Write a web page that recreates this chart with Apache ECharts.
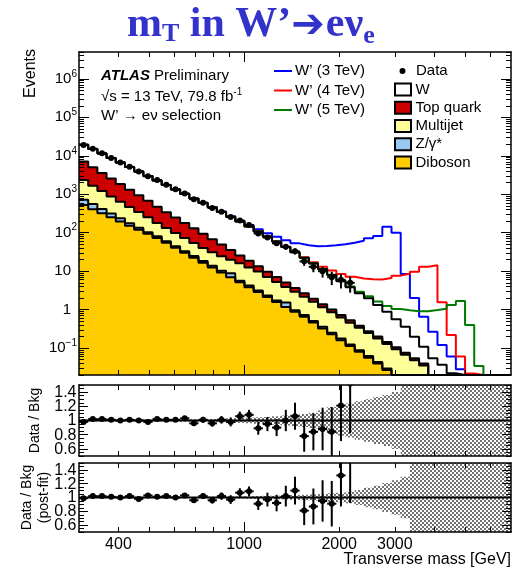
<!DOCTYPE html>
<html>
<head>
<meta charset="utf-8">
<script src="https://cdn.jsdelivr.net/npm/echarts@6.0.0/dist/echarts.min.js"></script>
<style>
html,body{margin:0;padding:0;background:#fff;}
#chart{width:513px;height:570px;}
</style>
</head>
<body>
<div id="chart"></div>
<script>
// ================= DATA =================
const nBins = 47;                       // log-spaced mT bins
const mTMinGeV = 300, mTMaxGeV = 7000;  // axis range
const xTickLabels = [400, 1000, 2000, 3000];
const yTickLabels = [0.1, 1, 10, 100, 1000, 10000, 100000, 1000000];
const ratioTickLabels = [0.6, 0.8, 1, 1.2, 1.4];

// background yields per bin (stack order bottom -> top: Diboson, Z, Multijet, Top, W)
const bkgDiboson = [525, 410, 321, 251, 196, 153, 120, 93.5, 73.1, 54.5, 40.6, 30.2, 22.5, 16.7, 12.5, 9.29, 6.92, 5.15, 3.84, 2.86, 2.13, 1.58, 1.18, 0.879, 0.655, 0.461, 0.325, 0.229, 0.161, 0.114, 0.0802, 0.0565, 0.0398, 0.0269, 0.0158, 0.010, 0.006, 0.004, 0.0025, 0.0015, 0.001, 0.0006, 0.0004, 0.0003, 0.0002, 0.0001, 0.0001];
const bkgZ = [200, 152, 93, 63, 43, 23, 14.4, 9.4, 7.3, 5.5, 4.1, 3.0, 2.25, 1.67, 1.25, 0.93, 1.9, 0.52, 0.38, 0.29, 0.21, 0.16, 0.35, 0.088, 0.066, 0.046, 0.033, 0.023, 0.016, 0.011, 0.008, 0.0057, 0.004, 0.0027, 0.0016, 0.001, 0.0006, 0.0004, 0.0003, 0.0002, 0.0001, 0.0001, 0.00005, 0.00005, 0.00003, 0.00002, 0.00001];
const bkgMultijet = [1619, 1098, 802, 557, 399, 292, 209, 148, 99.6, 73, 53.9, 39.7, 29.4, 21.6, 17.3, 14.4, 11.1, 10.5, 8.34, 6.6, 4.71, 3.47, 2.33, 1.95, 1.45, 1.09, 0.80, 0.607, 0.444, 0.335, 0.252, 0.184, 0.134, 0.099, 0.076, 0.0565, 0.042, 0.031, 0.014, 0.0124, 0.008, 0.005, 0.003, 0.002, 0.001, 0.0008, 0.0004];
const bkgTop = [4735, 3352, 2373, 1699, 1203, 850, 601, 425, 293, 210, 149, 106, 76, 53.8, 36.9, 24.5, 15.6, 9.5, 6.0, 3.75, 2.68, 1.82, 1.23, 0.76, 0.50, 0.33, 0.23, 0.15, 0.108, 0.068, 0.042, 0.030, 0.022, 0.016, 0.0117, 0.0082, 0.0059, 0.0043, 0.0027, 0.0017, 0.001, 0.0005, 0.0005, 0.0003, 0.0002, 0.0001, 0.0001];
const bkgW = [12421, 9948, 7891, 6140, 4842, 3811, 2946, 2309, 1818, 1395, 1086, 844, 646, 502, 389, 298, 224.5, 169.3, 127.4, 94.5, 69.7, 51.9, 37.6, 27.2, 19.7, 13.9, 9.8, 6.93, 4.77, 3.27, 2.28, 1.69, 1.12, 0.74, 0.457, 0.285, 0.143, 0.069, 0.035, 0.021, 0.012, 0.006, 0.003, 0.0015, 0.001, 0.0005, 0.0004];

// W' signal yields (drawn on top of the total background)
const sigW3TeV = [2, 2, 2, 2, 2.5, 2.5, 3, 3, 3.5, 4, 4.5, 5, 5.5, 6, 7, 8, 9, 10, 12, 15, 18, 20, 21, 22, 25, 29, 34, 39, 45, 51, 59, 70, 81, 142, 99, 8.1, 1.8, 0.55, 0.21, 0.084, 0.038, 0.016, 0.005, 0.002, 0.001, 0.0005, 0.0003];
const sigW4TeV = [0.3, 0.3, 0.3, 0.3, 0.3, 0.3, 0.35, 0.35, 0.35, 0.35, 0.4, 0.4, 0.4, 0.4, 0.45, 0.45, 0.45, 0.5, 0.5, 0.5, 0.55, 0.55, 0.6, 0.6, 0.6, 1.2, 1.9, 2.5, 3.0, 3.4, 3.8, 4.2, 4.8, 5.8, 7.1, 8.2, 9.5, 13.0, 14.2, 1.51, 0.198, 0.048, 0.015, 0.004, 0.002, 0.001, 0.0005];
const sigW5TeV = [0.1, 0.1, 0.1, 0.1, 0.1, 0.1, 0.1, 0.1, 0.1, 0.1, 0.1, 0.1, 0.1, 0.1, 0.1, 0.12, 0.12, 0.12, 0.12, 0.12, 0.14, 0.14, 0.14, 0.15, 0.15, 0.16, 0.17, 0.18, 0.19, 0.2, 0.24, 0.28, 0.3, 0.36, 0.48, 0.6, 0.71, 0.8, 0.92, 1.02, 1.3, 1.67, 0.39, 0.03, 0.006, 0.002, 0.001];

// observed data (bins 0..29)
const dataCounts = [19110, 15260, 11710, 8797, 6683, 5180, 3890, 2925, 2337, 1755, 1347, 1054, 745, 602, 439, 350, 255, 207, 158, 96, 75, 53, 43, 33, 18, 13, 10, 7, 6, 5];

// ratio panels
const ratioPre = [0.98, 1.02, 1.02, 1.01, 1.00, 1.01, 1.00, 0.98, 1.02, 1.01, 1.01, 1.03, 0.96, 1.01, 0.96, 1.01, 0.98, 1.06, 1.08, 0.89, 0.95, 0.90, 1.00, 1.06, 0.78, 0.84, 0.88, 0.84, 1.21, 1.52];
const ratioPreErr = [0.008, 0.009, 0.01, 0.011, 0.012, 0.014, 0.016, 0.018, 0.021, 0.024, 0.027, 0.031, 0.037, 0.041, 0.048, 0.054, 0.063, 0.065, 0.07, 0.09, 0.1, 0.12, 0.15, 0.19, 0.22, 0.26, 0.3, 0.35, 0.5, 0.7];
const ratioPost = [0.99, 1.02, 1.02, 1.01, 1.00, 1.02, 0.98, 1.03, 1.01, 1.02, 1.00, 1.03, 0.96, 1.02, 0.96, 1.02, 0.97, 1.07, 1.09, 0.91, 0.97, 0.92, 1.02, 1.10, 0.81, 0.87, 0.95, 0.91, 1.32, 1.62];
const ratioPostErr = [0.008, 0.009, 0.01, 0.011, 0.012, 0.014, 0.016, 0.018, 0.021, 0.024, 0.027, 0.031, 0.037, 0.041, 0.048, 0.054, 0.063, 0.065, 0.07, 0.09, 0.1, 0.12, 0.15, 0.2, 0.21, 0.26, 0.3, 0.33, 0.45, 0.7];
// relative background uncertainty band half-widths (1 = fills panel)
const bandPre = [0.01, 0.01, 0.01, 0.01, 0.01, 0.01, 0.01, 0.01, 0.01, 0.01, 0.012, 0.014, 0.016, 0.018, 0.02, 0.025, 0.03, 0.035, 0.04, 0.045, 0.05, 0.06, 0.07, 0.08, 0.09, 0.11, 0.14, 0.19, 0.21, 0.24, 0.27, 0.3, 0.33, 0.36, 0.4, 1, 1, 1, 1, 1, 1, 1, 1, 1, 1, 1, 1];
const bandPost = [0.006, 0.006, 0.006, 0.006, 0.006, 0.006, 0.006, 0.006, 0.006, 0.006, 0.007, 0.008, 0.009, 0.01, 0.011, 0.012, 0.014, 0.016, 0.018, 0.02, 0.024, 0.027, 0.03, 0.035, 0.04, 0.045, 0.05, 0.06, 0.07, 0.085, 0.11, 0.14, 0.17, 0.21, 0.25, 0.3, 1, 1, 1, 1, 1, 1, 1, 1, 1, 1, 1];

// ================= CHART =================
const FONT = '"Liberation Sans", Arial, Helvetica, sans-serif';
const SERIF = '"Liberation Serif", "Times New Roman", serif';
const yMainMin = 0.02, yMainMax = 5e6;
const binEdges = Array.from({length: nBins + 1}, (_, k) => mTMinGeV * Math.pow(mTMaxGeV / mTMinGeV, k / nBins));
const binCenter = k => Math.sqrt(binEdges[k] * binEdges[k + 1]);
const sumArr = (...arrs) => arrs[0].map((_, k) => arrs.reduce((s, a) => s + a[k], 0));

const cumDib = bkgDiboson.slice();
const cumZ = sumArr(bkgDiboson, bkgZ);
const cumMJ = sumArr(bkgDiboson, bkgZ, bkgMultijet);
const cumTop = sumArr(bkgDiboson, bkgZ, bkgMultijet, bkgTop);
const total = sumArr(bkgDiboson, bkgZ, bkgMultijet, bkgTop, bkgW);

// like ROOT, bins below the frame minimum are drawn on the frame bottom
function stepData(vals) {
  const c = v => Math.max(v, yMainMin);
  const d = vals.map((v, k) => [binEdges[k], c(v)]);
  d.push([binEdges[nBins], c(vals[nBins - 1])]);
  return d;
}

const chart = echarts.init(document.getElementById('chart'), null, {renderer: 'canvas', width: 513, height: 570});

const grids = [
  {left: 79, top: 52, width: 432, height: 323},
  {left: 79, top: 385, width: 432, height: 71},
  {left: 79, top: 463, width: 432, height: 69}
];

// tick decorations
const xMajor = [1000];
const xMinor = [400, 500, 600, 700, 800, 900, 2000, 3000, 4000, 5000, 6000];
const yLogMinor = [];
for (let e = -2; e <= 6; e++) for (let m = 2; m <= 9; m++) { const v = m * Math.pow(10, e); if (v >= yMainMin && v <= yMainMax) yLogMinor.push(v); }
const rMinor = [];
for (let i = 0; i <= 20; i++) { const v = Math.round((0.5 + i * 0.05) * 100) / 100; if (!ratioTickLabels.includes(v)) rMinor.push(v); }

const lineBlack = {color: '#000', width: 1.5};
function xAxesFor(g, withLabels) {
  const base = {gridIndex: g, type: 'log', logBase: 10, min: mTMinGeV, max: mTMaxGeV, splitLine: {show: false}, axisLabel: {show: false}, axisLine: {show: false, onZero: false}, z: 10, silent: true};
  return [
    Object.assign({}, base, {position: 'bottom', axisLine: {show: true, onZero: false, lineStyle: lineBlack},
      axisTick: {show: true, inside: true, length: 10, customValues: xMajor, lineStyle: {color: '#000', width: 1}},
      axisLabel: withLabels ? {show: true, customValues: xTickLabels, formatter: v => String(Math.round(v)), hideOverlap: false,
        color: '#000', fontSize: 16, fontFamily: FONT, margin: 5} : {show: false}}),
    Object.assign({}, base, {position: 'bottom', axisTick: {show: true, inside: true, length: 5, customValues: xMinor, lineStyle: {color: '#000', width: 1}}}),
    Object.assign({}, base, {position: 'top', axisLine: {show: true, onZero: false, lineStyle: lineBlack},
      axisTick: {show: true, inside: true, length: 10, customValues: xMajor, lineStyle: {color: '#000', width: 1}}}),
    Object.assign({}, base, {position: 'top', axisTick: {show: true, inside: true, length: 5, customValues: xMinor, lineStyle: {color: '#000', width: 1}}})
  ];
}
function logLabel(v) {
  const e = Math.round(Math.log10(v));
  if (e === 0) return '{b|1}{s|}';
  if (e === 1) return '{b|10}{s|}';
  return '{b|10}{p|' + (e < 0 ? '\u2212' + (-e) : e) + '}';
}
function yAxesFor(g) {
  const isMain = g === 0;
  const base = isMain ? {type: 'log', logBase: 10, min: yMainMin, max: yMainMax} : {type: 'value', min: 0.5, max: 1.5};
  Object.assign(base, {gridIndex: g, splitLine: {show: false}, axisLabel: {show: false}, axisLine: {show: false, onZero: false}, z: 10, silent: true});
  const major = isMain ? yTickLabels : ratioTickLabels;
  const minor = isMain ? yLogMinor : rMinor;
  const label = isMain ? {
      show: true, customValues: yTickLabels, formatter: logLabel, margin: 2, hideOverlap: false,
      rich: {b: {fontSize: 15, fontFamily: FONT, color: '#000', lineHeight: 20},
             p: {fontSize: 10, fontFamily: FONT, color: '#000', lineHeight: 12, verticalAlign: 'top'},
             s: {width: 6}}
    } : {show: false};
  return [
    Object.assign({}, base, {position: 'left', axisLine: {show: true, onZero: false, lineStyle: lineBlack},
      axisTick: {show: true, inside: true, length: isMain ? 10 : 9, customValues: major, lineStyle: {color: '#000', width: 1}}, axisLabel: label}),
    Object.assign({}, base, {position: 'left', axisTick: {show: true, inside: true, length: 5, customValues: minor, lineStyle: {color: '#000', width: 1}}}),
    Object.assign({}, base, {position: 'right', axisLine: {show: true, onZero: false, lineStyle: lineBlack},
      axisTick: {show: true, inside: true, length: isMain ? 10 : 9, customValues: major, lineStyle: {color: '#000', width: 1}}}),
    Object.assign({}, base, {position: 'right', axisTick: {show: true, inside: true, length: 5, customValues: minor, lineStyle: {color: '#000', width: 1}}})
  ];
}

const xAxes = [].concat(xAxesFor(0, false), xAxesFor(1, false), xAxesFor(2, true));
const yAxes = [].concat(yAxesFor(0), yAxesFor(1), yAxesFor(2));

function hist(vals, fill, color, width) {
  return {type: 'line', xAxisIndex: 0, yAxisIndex: 0, step: 'end', data: stepData(vals), symbol: 'none', showSymbol: false,
    lineStyle: {color: color, width: width}, areaStyle: fill ? {color: fill, opacity: 1, origin: 'start'} : undefined,
    silent: true, animation: false, clip: true, z: 3};
}

// checker pattern for the uncertainty band
const pat = document.createElement('canvas');
pat.width = 4; pat.height = 4;
(function () {
  const c = pat.getContext('2d');
  c.fillStyle = '#ffffff'; c.fillRect(0, 0, 4, 4);
  c.fillStyle = '#727272';
  c.fillRect(0, 0, 2, 2); c.fillRect(2, 2, 2, 2);
})();
const bandFill = {image: pat, repeat: 'repeat'};

function bandSeries(g, band) {
  return {type: 'custom', xAxisIndex: 4 * g, yAxisIndex: 4 * g, clip: true, silent: true, z: 2,
    data: [[binCenter(0), 1]],
    renderItem: function (params, api) {
      const up = [], dn = [];
      band.forEach((h, k) => {
        up.push(api.coord([binEdges[k], 1 + h]), api.coord([binEdges[k + 1], 1 + h]));
        dn.push(api.coord([binEdges[k], 1 - h]), api.coord([binEdges[k + 1], 1 - h]));
      });
      return {type: 'polygon', shape: {points: up.concat(dn.reverse())}, style: {fill: bandFill}};
    }};
}
function pointSeries(g, vals, errs) {
  return {type: 'custom', xAxisIndex: 4 * g, yAxisIndex: 4 * g, clip: true, silent: true, z: 6,
    data: vals.map((v, k) => [binCenter(k), v, errs[k], k]),
    renderItem: function (params, api) {
      const k = api.value(3), v = api.value(1), e = api.value(2);
      const xc = binCenter(k);
      const isLog = g === 0;
      const lo = isLog ? Math.max(v - e, 1e-4) : v - e;
      const pa = api.coord([binEdges[k], v]), pb = api.coord([binEdges[k + 1], v]);
      const pt = api.coord([xc, v + e]), pl = api.coord([xc, lo]);
      const pc = api.coord([xc, v]);
      return {type: 'group', children: [
        {type: 'line', shape: {x1: pa[0], y1: pa[1], x2: pb[0], y2: pb[1]}, style: {stroke: '#000', lineWidth: 2}},
        {type: 'line', shape: {x1: pt[0], y1: pt[1], x2: pl[0], y2: pl[1]}, style: {stroke: '#000', lineWidth: 2}},
        {type: 'circle', shape: {cx: pc[0], cy: pc[1], r: 3}, style: {fill: '#000'}}
      ]};
    }};
}
// ratio-axis tick labels placed through the panel's own y scale
function ratioLabelSeries(g) {
  return {type: 'custom', xAxisIndex: 4 * g, yAxisIndex: 4 * g, clip: false, silent: true, z: 20,
    data: ratioTickLabels.map(v => [mTMinGeV, v]),
    renderItem: function (params, api) {
      const v = api.value(1);
      const p = api.coord([mTMinGeV, v]);
      return {type: 'text', x: p[0] - 2.5, y: p[1] + 0.5,
        style: {text: Math.abs(v - 1) < 1e-9 ? '1' : v.toFixed(1), font: '16px ' + FONT, fill: '#000', textAlign: 'right', textVerticalAlign: 'middle'}};
    }};
}

const series = [
  hist(sumArr(total, sigW3TeV), null, '#0000ff', 2),
  hist(sumArr(total, sigW4TeV), null, '#ff0000', 2),
  hist(sumArr(total, sigW5TeV), null, '#007a00', 2),
  hist(total, '#ffffff', '#000', 2),
  hist(cumTop, '#cc0000', '#000', 2),
  hist(cumMJ, '#ffff99', '#000', 2),
  hist(cumZ, '#99c8f0', '#000', 2),
  hist(cumDib, '#ffcc00', '#000', 2),
  pointSeries(0, dataCounts, dataCounts.map(n => Math.sqrt(n))),
  bandSeries(1, bandPre),
  bandSeries(2, bandPost),
  {type: 'line', xAxisIndex: 4, yAxisIndex: 4, data: [[mTMinGeV, 1], [mTMaxGeV, 1]], symbol: 'none', lineStyle: {color: '#000', width: 2}, silent: true, z: 4},
  {type: 'line', xAxisIndex: 8, yAxisIndex: 8, data: [[mTMinGeV, 1], [mTMaxGeV, 1]], symbol: 'none', lineStyle: {color: '#000', width: 2}, silent: true, z: 4},
  pointSeries(1, ratioPre, ratioPreErr),
  pointSeries(2, ratioPost, ratioPostErr),
  ratioLabelSeries(1),
  ratioLabelSeries(2)
];

// ---------- text helpers ----------
const mctx = document.createElement('canvas').getContext('2d');
function run(x, baseline, pieces, color) {
  const els = []; let cx = x;
  pieces.forEach(p => {
    const fam = p.family || FONT;
    const font = (p.style || 'normal') + ' ' + (p.weight || 'normal') + ' ' + p.size + 'px ' + fam;
    mctx.font = font;
    const w = mctx.measureText(p.t).width;
    els.push({type: 'text', x: cx, y: baseline + (p.dy || 0) - (p.mid || 0.35) * p.size, silent: true, z: 20,
      style: {text: p.t, font: font, fill: p.color || color, textAlign: 'left', textVerticalAlign: 'middle'}});
    cx += w + (p.gap || 0);
  });
  return els;
}
function txt(x, y, text, size, opts) {
  opts = opts || {};
  return {type: 'text', x: x, y: y, rotation: opts.rot || 0, silent: true, z: 20,
    style: {text: text, font: (opts.style || 'normal') + ' ' + (opts.weight || 'normal') + ' ' + size + 'px ' + (opts.family || FONT),
      fill: opts.color || '#000', textAlign: opts.align || 'left', textVerticalAlign: opts.valign || 'middle'}};
}

const titleBlue = '#3333cc';
let graphics = [];
graphics = graphics.concat(run(127, 40, [
  {t: 'm', size: 42, weight: 'bold', family: SERIF},
  {t: 'T', size: 26, weight: 'bold', family: SERIF, dy: 3},
  {t: ' in W\u2019', size: 42, weight: 'bold', family: SERIF},
  {t: '\u2794', size: 40, weight: 'bold', family: '"DejaVu Sans"', dy: -1, mid: 0.3, gap: 1},
  {t: 'e\u03bd', size: 42, weight: 'bold', family: SERIF},
  {t: 'e', size: 26, weight: 'bold', family: SERIF, dy: 5}
], titleBlue));

// ATLAS label
graphics = graphics.concat(run(101, 81, [
  {t: 'ATLAS', size: 15, weight: 'bold', style: 'italic', gap: 4},
  {t: 'Preliminary', size: 15}
], '#000'));
graphics = graphics.concat(run(101, 102, [
  {t: '\u221as = 13 TeV, 79.8 fb', size: 15},
  {t: '-1', size: 10, dy: -6}
], '#000'));
graphics = graphics.concat(run(101, 121.5, [
  {t: 'W\u2019 \u2192 e\u03bd selection', size: 15}
], '#000'));

// signal legend
[['W\u2019 (3 TeV)', '#0000ff', 71], ['W\u2019 (4 TeV)', '#ff0000', 90.5], ['W\u2019 (5 TeV)', '#007a00', 110]].forEach(([lab, col, y]) => {
  graphics.push({type: 'line', shape: {x1: 274, y1: y, x2: 292, y2: y}, style: {stroke: col, lineWidth: 2}, silent: true, z: 20});
  graphics.push(txt(295, y, lab, 15));
});
// background legend
graphics.push({type: 'circle', shape: {cx: 402.5, cy: 71, r: 3}, style: {fill: '#000'}, silent: true, z: 20});
graphics.push(txt(416, 71, 'Data', 15));
[['W', '#ffffff', 89.5], ['Top quark', '#cc0000', 107.8], ['Multijet', '#ffff99', 126], ['Z/\u03b3*', '#99c8f0', 144.3], ['Diboson', '#ffcc00', 162.5]].forEach(([lab, col, y]) => {
  graphics.push({type: 'rect', shape: {x: 395, y: y - 6, width: 16, height: 12}, style: {fill: col, stroke: '#000', lineWidth: 2}, silent: true, z: 20});
  graphics.push(txt(415.5, y, lab, 15));
});

// axis titles
graphics.push(txt(31, 49, 'Events', 16, {rot: Math.PI / 2, align: 'right'}));
graphics.push(txt(35, 420.5, 'Data / Bkg', 14, {rot: Math.PI / 2, align: 'center'}));
graphics.push(txt(27, 497.5, 'Data / Bkg', 14, {rot: Math.PI / 2, align: 'center'}));
graphics.push(txt(44, 497.5, '(post-fit)', 14, {rot: Math.PI / 2, align: 'center'}));
graphics.push(txt(511, 560, 'Transverse mass [GeV]', 16, {align: 'right'}));

chart.setOption({
  animation: false,
  backgroundColor: '#ffffff',
  grid: grids,
  xAxis: xAxes,
  yAxis: yAxes,
  series: series,
  graphic: graphics
});
</script>
</body>
</html>
